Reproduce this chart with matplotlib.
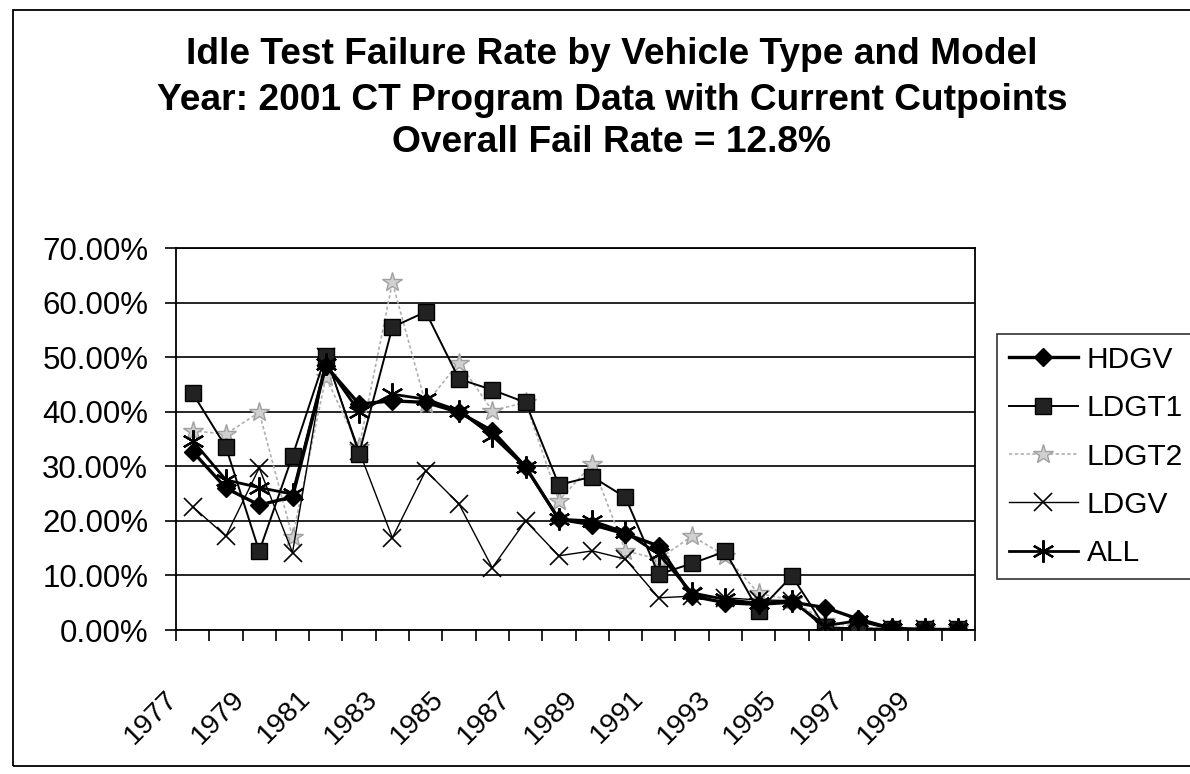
import matplotlib
matplotlib.use("Agg")
import matplotlib.pyplot as plt
from matplotlib.ticker import FuncFormatter, FixedLocator
from matplotlib.patches import Rectangle
from matplotlib.transforms import ScaledTranslation

years = [str(y) for y in range(1977, 2001)]
hdgv = [32.7, 26.0, 22.9, 24.4, 48.4, 41.4, 42.0, 41.7, 39.9, 36.5, 29.9, 20.3,
        19.3, 17.6, 15.4, 6.2, 5.0, 4.7, 5.1, 4.1, 2.0, 0.3, 0.1, 0.1]
ldgt1 = [43.4, 33.5, 14.4, 31.9, 50.3, 32.3, 55.5, 58.3, 46.0, 44.0, 41.7, 26.6,
         28.1, 24.3, 10.2, 12.2, 14.4, 3.5, 9.9, 0.5, 0.3, 0.2, 0.1, 0.1]
ldgt2 = [36.5, 35.9, 39.9, 17.0, 46.3, 33.5, 63.7, 41.4, 49.0, 40.2, 41.7, 23.7,
         30.4, 14.5, 13.0, 17.2, 13.6, 6.7, 5.5, 1.6, 0.5, 0.2, 0.1, 0.1]
ldgv = [22.6, 17.2, 29.7, 14.2, 50.1, 32.8, 16.9, 29.2, 23.1, 11.4, 20.0, 13.6,
        14.5, 13.0, 5.9, 6.2, 5.9, 5.5, 5.4, 0.2, 0.2, 0.1, 0.1, 0.1]
all_ = [34.7, 27.5, 26.1, 24.9, 48.7, 40.0, 43.2, 42.3, 40.2, 35.6, 29.8, 20.3,
        20.0, 17.9, 13.9, 6.8, 5.6, 4.9, 5.3, 0.8, 1.7, 0.2, 0.1, 0.1]
series_names = ["HDGV", "LDGT1", "LDGT2", "LDGV", "ALL"]
title_lines = ["Idle Test Failure Rate by Vehicle Type and Model",
               "Year: 2001 CT Program Data with Current Cutpoints",
               "Overall Fail Rate = 12.8%"]

plt.rcParams['font.family'] = ['Liberation Sans', 'DejaVu Sans']

fig = plt.figure(figsize=(11.9, 7.74), dpi=100)
ax = fig.add_axes([176/1190, 1-630/774, (975-176)/1190, (630-248)/774])

x = list(range(len(years)))
asterisk = (6, 2, 0)
ax.plot(x, hdgv, color='black', lw=2.4, marker='D', ms=9, mfc='black', mec='black', label=series_names[0], zorder=5)
ax.plot(x, ldgt1, color='black', lw=1.4, marker='s', ms=11, mfc='#222222', mec='black', label=series_names[1], zorder=4)
ax.plot(x, ldgt2, color='#b0b0b0', lw=1.2, ls=(0, (2, 1.5)), marker='*', ms=15, mfc='#d0d0d0', mec='#a0a0a0', label=series_names[2], zorder=3)
ax.plot(x, ldgv, color='black', lw=1.0, marker='x', ms=13, mew=1.2, label=series_names[3], zorder=3)
ax.plot(x, all_, color='black', lw=2.0, marker=asterisk, ms=16, mew=1.6, label=series_names[4], zorder=6)

ax.set_xlim(-0.5, len(years) - 0.5)
ax.set_ylim(0, 70)
ax.yaxis.set_major_locator(FixedLocator([0, 10, 20, 30, 40, 50, 60, 70]))
ax.yaxis.set_major_formatter(FuncFormatter(lambda v, p: f"{v:.2f}%"))
ax.grid(axis='y', color='black', lw=1.2)
ax.set_axisbelow(True)

ax.xaxis.set_major_locator(FixedLocator([i - 0.5 for i in range(len(years) + 1)]))
ax.xaxis.set_major_formatter(FuncFormatter(lambda v, p: ""))
ax.set_xticks(x[::2], minor=True)
ax.set_xticklabels(years[::2], minor=True, rotation=45, ha='right', va='top',
                   rotation_mode='anchor', fontsize=20.5)
ax.tick_params(axis='x', which='minor', length=0, pad=40)
ax.tick_params(axis='x', which='major', length=8, width=1.2, direction='out')
ax.tick_params(axis='y', which='major', length=8, width=1.2, direction='out', labelsize=22.5, pad=12)
off = ScaledTranslation(-28/100, 0, fig.dpi_scale_trans)
for lab in ax.get_xticklabels(minor=True):
    lab.set_transform(lab.get_transform() + off)
for s in ax.spines.values():
    s.set_color('black')
    s.set_linewidth(1.3)

leg = fig.legend(loc='upper left', bbox_to_anchor=(997/1190, 1-334/774),
                 fontsize=21.5, frameon=True, fancybox=False, edgecolor='black',
                 handlelength=2.3, handletextpad=0.3, labelspacing=0.68, borderpad=0.4,
                 borderaxespad=0)
leg.get_frame().set_linewidth(1.2)

for t, yy in zip(title_lines, [55, 100, 143]):
    fig.text(612/1190, 1 - yy/774, t, ha='center', va='center', fontsize=26.7, fontweight='bold')

fig.patches.append(Rectangle((13/1190, 1-766/774), 1.1, (766-10)/774, transform=fig.transFigure,
                             fill=False, edgecolor='black', lw=1.3))

fig.savefig("out.png", dpi=100)
